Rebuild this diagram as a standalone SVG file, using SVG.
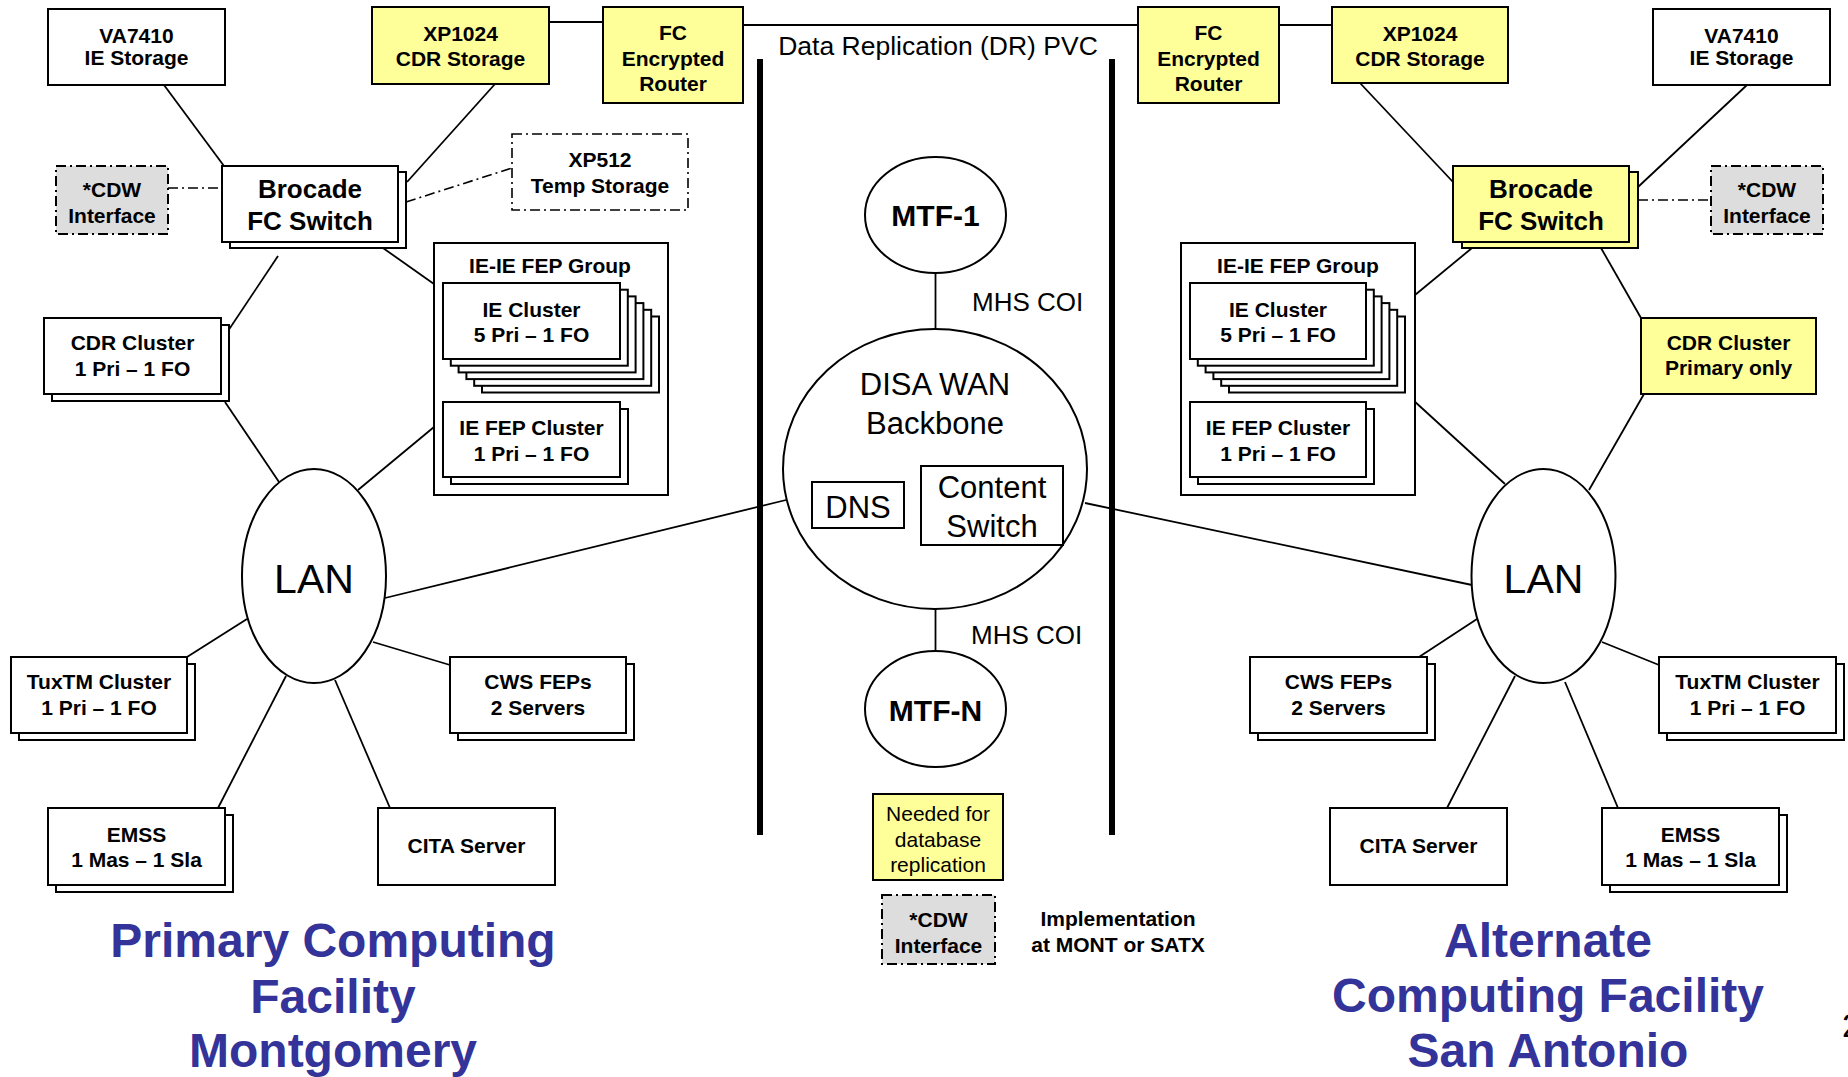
<svg xmlns="http://www.w3.org/2000/svg" width="1848" height="1077" viewBox="0 0 1848 1077">
<style>
  .bx{fill:#fff;stroke:#000;stroke-width:2}
  .yl{fill:#ffff99;stroke:#000;stroke-width:2}
  .gy{fill:#dddddd;stroke:#000;stroke-width:2;stroke-dasharray:10,4,2,4}
  .dd{fill:#fff;stroke:#000;stroke-width:1.6;stroke-dasharray:10,4,2,4}
  .el{fill:#fff;stroke:#000;stroke-width:2}
  .ln{stroke:#000;stroke-width:1.8;fill:none}
  .dl{stroke:#000;stroke-width:1.6;fill:none;stroke-dasharray:10,4,2,4}
  .bar{stroke:#000;stroke-width:6;fill:none}
  text{font-family:"Liberation Sans",Arial,sans-serif;fill:#000;text-anchor:middle}
  .b{font-weight:bold;font-size:21px}
  .b26{font-weight:bold;font-size:26px}
  .n{font-size:21px}
  .t{font-weight:bold;font-size:48px;fill:#333399}
</style>
<rect width="1848" height="1077" fill="#fff"/>

<g id="connectors">
  <line class="ln" x1="549" y1="22" x2="603" y2="22"/>
  <line class="ln" x1="743" y1="25" x2="1138" y2="25"/>
  <line class="ln" x1="1279" y1="25" x2="1332" y2="25"/>
  <line class="bar" x1="760" y1="59" x2="760" y2="835"/>
  <line class="bar" x1="1112" y1="59" x2="1112" y2="835"/>
  <!-- left -->
  <line class="ln" x1="164" y1="85" x2="224" y2="166"/>
  <line class="ln" x1="495" y1="84" x2="407" y2="182"/>
  <line class="dl" x1="168" y1="188" x2="222" y2="188"/>
  <line class="dl" x1="406" y1="202" x2="512" y2="168"/>
  <line class="ln" x1="383" y1="248" x2="434" y2="284"/>
  <line class="ln" x1="278" y1="256" x2="228" y2="331"/>
  <line class="ln" x1="225" y1="402" x2="279" y2="482"/>
  <line class="ln" x1="434" y1="427" x2="358" y2="490"/>
  <line class="ln" x1="385" y1="598" x2="786" y2="500"/>
  <line class="ln" x1="187" y1="657" x2="247" y2="619"/>
  <line class="ln" x1="373" y1="642" x2="450" y2="665"/>
  <line class="ln" x1="286" y1="676" x2="218" y2="808"/>
  <line class="ln" x1="335" y1="680" x2="390" y2="808"/>
  <!-- center -->
  <line class="ln" x1="935.5" y1="273" x2="935.5" y2="329"/>
  <line class="ln" x1="935.5" y1="609" x2="935.5" y2="651"/>
  <line class="ln" x1="1085" y1="503" x2="1472" y2="585"/>
  <!-- right -->
  <line class="ln" x1="1360" y1="83" x2="1453" y2="182"/>
  <line class="ln" x1="1747" y1="85" x2="1638" y2="187"/>
  <line class="dl" x1="1638" y1="200" x2="1711" y2="200"/>
  <line class="ln" x1="1472" y1="248" x2="1415" y2="295"/>
  <line class="ln" x1="1601" y1="248" x2="1641" y2="318"/>
  <line class="ln" x1="1644" y1="394" x2="1589" y2="490"/>
  <line class="ln" x1="1413" y1="400" x2="1505" y2="484"/>
  <line class="ln" x1="1419" y1="657" x2="1477" y2="619"/>
  <line class="ln" x1="1602" y1="642" x2="1659" y2="665"/>
  <line class="ln" x1="1515" y1="676" x2="1447" y2="808"/>
  <line class="ln" x1="1565" y1="682" x2="1618" y2="808"/>
</g>

<!-- LEFT SIDE -->
<g id="va7410-left">
  <rect class="bx" x="48" y="9" width="177" height="76"/>
  <text class="b" x="136.5" y="43">VA7410</text>
  <text class="b" x="136.5" y="65">IE Storage</text>
</g>
<g id="xp1024-left">
  <rect class="yl" x="372" y="7" width="177" height="77"/>
  <text class="b" x="460.5" y="41">XP1024</text>
  <text class="b" x="460.5" y="66">CDR Storage</text>
</g>
<g id="fcrouter-left">
  <rect class="yl" x="603" y="7" width="140" height="96"/>
  <text class="b" x="673" y="40">FC</text>
  <text class="b" x="673" y="66">Encrypted</text>
  <text class="b" x="673" y="91">Router</text>
</g>
<g id="cdw-left">
  <rect class="gy" x="56" y="166" width="112" height="68"/>
  <text class="b" x="112" y="197">*CDW</text>
  <text class="b" x="112" y="223">Interface</text>
</g>
<g id="brocade-left">
  <rect class="bx" x="230" y="172" width="176" height="76"/>
  <rect class="bx" x="222" y="166" width="176" height="76"/>
  <text class="b26" x="310" y="198">Brocade</text>
  <text class="b26" x="310" y="230">FC Switch</text>
</g>
<g id="xp512-left">
  <rect class="dd" x="512" y="134" width="176" height="76"/>
  <text class="b" x="600" y="167">XP512</text>
  <text class="b" x="600" y="193">Temp Storage</text>
</g>
<g id="iefep-group-left">
  <rect class="bx" x="434" y="243" width="234" height="252"/>
  <text class="b" x="550" y="273">IE-IE FEP Group</text>
  <rect class="bx" x="482" y="316.5" width="177" height="76"/>
  <rect class="bx" x="474.2" y="309.8" width="177" height="76"/>
  <rect class="bx" x="466.4" y="303.1" width="177" height="76"/>
  <rect class="bx" x="458.6" y="296.4" width="177" height="76"/>
  <rect class="bx" x="450.8" y="289.7" width="177" height="76"/>
  <rect class="bx" x="443" y="283" width="177" height="76"/>
  <text class="b" x="531.5" y="317">IE Cluster</text>
  <text class="b" x="531.5" y="342">5 Pri – 1 FO</text>
  <rect class="bx" x="451" y="409" width="177" height="75"/>
  <rect class="bx" x="443" y="402" width="177" height="75"/>
  <text class="b" x="531.5" y="435">IE FEP Cluster</text>
  <text class="b" x="531.5" y="461">1 Pri – 1 FO</text>
</g>
<g id="cdr-left">
  <rect class="bx" x="52" y="325" width="177" height="76"/>
  <rect class="bx" x="44" y="318" width="177" height="76"/>
  <text class="b" x="132.5" y="350">CDR Cluster</text>
  <text class="b" x="132.5" y="376">1 Pri – 1 FO</text>
</g>
<g id="lan-left">
  <ellipse class="el" cx="314" cy="576" rx="72" ry="107"/>
  <text x="314" y="593" style="font-size:41px">LAN</text>
</g>
<g id="tux-left">
  <rect class="bx" x="19" y="664" width="176" height="76"/>
  <rect class="bx" x="11" y="657" width="176" height="76"/>
  <text class="b" x="99" y="689">TuxTM Cluster</text>
  <text class="b" x="99" y="715">1 Pri – 1 FO</text>
</g>
<g id="cws-left">
  <rect class="bx" x="458" y="664" width="176" height="76"/>
  <rect class="bx" x="450" y="657" width="176" height="76"/>
  <text class="b" x="538" y="689">CWS FEPs</text>
  <text class="b" x="538" y="715">2 Servers</text>
</g>
<g id="emss-left">
  <rect class="bx" x="56" y="815" width="177" height="77"/>
  <rect class="bx" x="48" y="808" width="177" height="77"/>
  <text class="b" x="136.5" y="842">EMSS</text>
  <text class="b" x="136.5" y="867">1 Mas – 1 Sla</text>
</g>
<g id="cita-left">
  <rect class="bx" x="378" y="808" width="177" height="77"/>
  <text class="b" x="466.5" y="853">CITA Server</text>
</g>
<g id="title-left">
  <text class="t" x="333" y="957">Primary Computing</text>
  <text class="t" x="333" y="1013">Facility</text>
  <text class="t" x="333" y="1067">Montgomery</text>
</g>

<!-- CENTER -->
<g id="dr-label">
  <text x="938" y="55" style="font-size:26.5px">Data Replication (DR) PVC</text>
</g>
<g id="mtf1">
  <ellipse class="el" cx="935.5" cy="215" rx="70.5" ry="58"/>
  <text x="935.5" y="226" style="font-size:30px;font-weight:bold">MTF-1</text>
</g>
<g id="mhs-coi-1">
  <text x="972" y="311" style="font-size:26px;text-anchor:start">MHS COI</text>
</g>
<g id="disa-wan">
  <ellipse class="el" cx="935" cy="469" rx="152" ry="140"/>
  <text x="935" y="395" style="font-size:31px">DISA WAN</text>
  <text x="935" y="434" style="font-size:31px">Backbone</text>
  <rect class="bx" x="812" y="482" width="92" height="46"/>
  <text x="858" y="518" style="font-size:31px">DNS</text>
  <rect class="bx" x="921" y="466" width="142" height="79"/>
  <text x="992" y="498" style="font-size:31px">Content</text>
  <text x="992" y="537" style="font-size:31px">Switch</text>
</g>
<g id="mhs-coi-2">
  <text x="971" y="644" style="font-size:26px;text-anchor:start">MHS COI</text>
</g>
<g id="mtfn">
  <ellipse class="el" cx="935.5" cy="709" rx="70.5" ry="58"/>
  <text x="935.5" y="721" style="font-size:30px;font-weight:bold">MTF-N</text>
</g>
<g id="needed-note">
  <rect class="yl" x="873" y="794" width="130" height="86"/>
  <text class="n" x="938" y="821">Needed for</text>
  <text class="n" x="938" y="847">database</text>
  <text class="n" x="938" y="872">replication</text>
</g>
<g id="cdw-legend">
  <rect class="gy" x="882" y="895" width="113" height="69"/>
  <text class="b" x="938.5" y="927">*CDW</text>
  <text class="b" x="938.5" y="953">Interface</text>
</g>
<g id="impl-note">
  <text class="b" x="1118" y="926">Implementation</text>
  <text class="b" x="1118" y="952">at MONT or SATX</text>
</g>

<!-- RIGHT SIDE -->
<g id="fcrouter-right">
  <rect class="yl" x="1138" y="7" width="141" height="96"/>
  <text class="b" x="1208.5" y="40">FC</text>
  <text class="b" x="1208.5" y="66">Encrypted</text>
  <text class="b" x="1208.5" y="91">Router</text>
</g>
<g id="xp1024-right">
  <rect class="yl" x="1332" y="7" width="176" height="76"/>
  <text class="b" x="1420" y="41">XP1024</text>
  <text class="b" x="1420" y="66">CDR Storage</text>
</g>
<g id="va7410-right">
  <rect class="bx" x="1653" y="9" width="177" height="76"/>
  <text class="b" x="1741.5" y="43">VA7410</text>
  <text class="b" x="1741.5" y="65">IE Storage</text>
</g>
<g id="brocade-right">
  <rect class="yl" x="1462" y="172" width="176" height="76"/>
  <rect class="yl" x="1453" y="166" width="176" height="76"/>
  <text class="b26" x="1541" y="198">Brocade</text>
  <text class="b26" x="1541" y="230">FC Switch</text>
</g>
<g id="cdw-right">
  <rect class="gy" x="1711" y="166" width="112" height="68"/>
  <text class="b" x="1767" y="197">*CDW</text>
  <text class="b" x="1767" y="223">Interface</text>
</g>
<g id="iefep-group-right">
  <rect class="bx" x="1181" y="243" width="234" height="252"/>
  <text class="b" x="1298" y="273">IE-IE FEP Group</text>
  <rect class="bx" x="1229" y="316.5" width="176" height="76"/>
  <rect class="bx" x="1221.2" y="309.8" width="176" height="76"/>
  <rect class="bx" x="1213.4" y="303.1" width="176" height="76"/>
  <rect class="bx" x="1205.6" y="296.4" width="176" height="76"/>
  <rect class="bx" x="1197.8" y="289.7" width="176" height="76"/>
  <rect class="bx" x="1190" y="283" width="176" height="76"/>
  <text class="b" x="1278" y="317">IE Cluster</text>
  <text class="b" x="1278" y="342">5 Pri – 1 FO</text>
  <rect class="bx" x="1198" y="409" width="176" height="75"/>
  <rect class="bx" x="1190" y="402" width="176" height="75"/>
  <text class="b" x="1278" y="435">IE FEP Cluster</text>
  <text class="b" x="1278" y="461">1 Pri – 1 FO</text>
</g>
<g id="cdr-right">
  <rect class="yl" x="1641" y="318" width="175" height="76"/>
  <text class="b" x="1728.5" y="350">CDR Cluster</text>
  <text class="b" x="1728.5" y="375">Primary only</text>
</g>
<g id="lan-right">
  <ellipse class="el" cx="1543.5" cy="576" rx="72" ry="107"/>
  <text x="1543.5" y="593" style="font-size:41px">LAN</text>
</g>
<g id="cws-right">
  <rect class="bx" x="1258" y="664" width="177" height="76"/>
  <rect class="bx" x="1250" y="657" width="177" height="76"/>
  <text class="b" x="1338.5" y="689">CWS FEPs</text>
  <text class="b" x="1338.5" y="715">2 Servers</text>
</g>
<g id="tux-right">
  <rect class="bx" x="1667" y="664" width="177" height="76"/>
  <rect class="bx" x="1659" y="657" width="177" height="76"/>
  <text class="b" x="1747.5" y="689">TuxTM Cluster</text>
  <text class="b" x="1747.5" y="715">1 Pri – 1 FO</text>
</g>
<g id="cita-right">
  <rect class="bx" x="1330" y="808" width="177" height="77"/>
  <text class="b" x="1418.5" y="853">CITA Server</text>
</g>
<g id="emss-right">
  <rect class="bx" x="1610" y="815" width="177" height="77"/>
  <rect class="bx" x="1602" y="808" width="177" height="77"/>
  <text class="b" x="1690.5" y="842">EMSS</text>
  <text class="b" x="1690.5" y="867">1 Mas – 1 Sla</text>
</g>
<g id="title-right">
  <text class="t" x="1548" y="957">Alternate</text>
  <text class="t" x="1548" y="1012">Computing Facility</text>
  <text class="t" x="1548" y="1067">San Antonio</text>
</g>
<g id="page-number">
  <text x="1842" y="1037" style="font-size:34px;text-anchor:start">2</text>
</g>
</svg>
